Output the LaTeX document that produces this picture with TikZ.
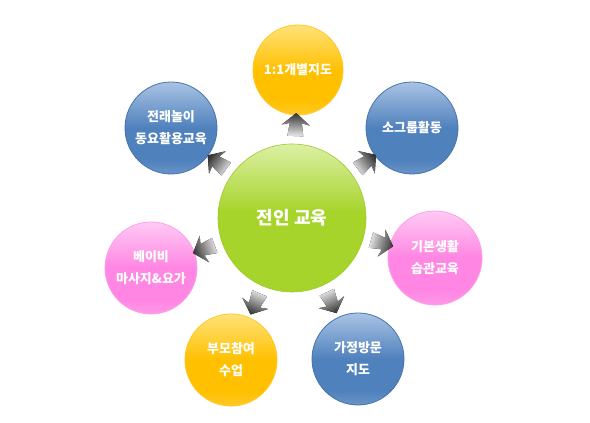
\documentclass[tikz,border=0pt]{standalone}
\usepackage{fontspec}
\newfontfamily\kr{Noto Sans CJK KR}
\usetikzlibrary{calc}
\definecolor{ybase}{HTML}{FFC000}
\definecolor{ytop}{HTML}{FFE27A}
\definecolor{bbase}{HTML}{4F81BD}
\definecolor{btop}{HTML}{A9C3E4}
\definecolor{pbase}{HTML}{FF86E3}
\definecolor{ptop}{HTML}{FFCAF4}
\definecolor{gbase}{HTML}{A6D42A}
\definecolor{gtop}{HTML}{DCF0A4}
\pgfdeclareverticalshading{ballY}{100bp}{color(0bp)=(ybase); color(25bp)=(ybase!85!white); color(33bp)=(ybase); color(50bp)=(ybase); color(75bp)=(ytop); color(100bp)=(ytop)}
\pgfdeclareverticalshading{ballB}{100bp}{color(0bp)=(bbase); color(25bp)=(bbase!85!white); color(33bp)=(bbase); color(50bp)=(bbase); color(75bp)=(btop); color(100bp)=(btop)}
\pgfdeclareverticalshading{ballP}{100bp}{color(0bp)=(pbase); color(25bp)=(pbase!85!white); color(33bp)=(pbase); color(50bp)=(pbase); color(75bp)=(ptop); color(100bp)=(ptop)}
\pgfdeclareverticalshading{ballG}{100bp}{color(0bp)=(gbase); color(25bp)=(gbase); color(52bp)=(gbase); color(75bp)=(gtop); color(100bp)=(gtop)}
\tikzset{
  bubble/.style={circle, minimum size=92pt, inner sep=0pt, align=center,
    text=white, font=\kr\bfseries\fontsize{13}{22}\selectfont, line width=0.8pt},
  yellowb/.style={bubble, draw=ybase!85!white, shading=ballY},
  blueb/.style={bubble, draw=bbase!90!black, shading=ballB},
  pinkb/.style={bubble, draw=pbase!80!white, shading=ballP},
  hub/.style={circle, minimum size=148pt, inner sep=0pt, align=center, text=white,
    font=\kr\bfseries\fontsize{18}{22}\selectfont, draw=gbase!95!black, line width=0.6pt,
    shading=ballG},
  arrowshade/.style={top color=black!80, bottom color=black!8}
}
\newcommand{\grayarrow}[2]{%
  \begin{scope}[shift={($(C)!94pt!(#1)$)}]
    \pgfmathsetmacro{\shang}{#2-90}
    \fill[arrowshade, shading angle=\shang]
      (#2:11) -- (#2+94.1:14.04) -- (#2+80.5:6.08) -- (#2+146.3:14.42)
      -- (#2-146.3:14.42) -- (#2-80.5:6.08) -- (#2-94.1:14.04) -- cycle;
  \end{scope}}
\begin{document}
\begin{tikzpicture}[x=1pt,y=1pt]
\useasboundingbox[fill=white] (0,0) rectangle (590,423);
\node[hub] (C) at (292,205) {전인 교육};
\node[yellowb, minimum size=90pt] (T) at (298,353) {1:1개별지도};
\node[blueb] (UR) at (412,295) {소그룹활동};
\node[pinkb, minimum size=94pt] (R) at (435,165) {기본생활\\습관교육};
\node[blueb] (LR) at (358,64) {가정방문\\지도};
\node[yellowb] (LL) at (231,63) {부모참여\\수업};
\node[pinkb] (L) at (151,155) {베이비\\마사지\&요가};
\node[blueb] (UL) at (171,295) {전래놀이\\동요활용교육};
\grayarrow{T}{87.7}
\grayarrow{UR}{36.9}
\grayarrow{R}{-15.6}
\grayarrow{LR}{-64.9}
\grayarrow{LL}{-113.2}
\grayarrow{L}{-160.5}
\grayarrow{UL}{143.4}
\end{tikzpicture}
\end{document}
